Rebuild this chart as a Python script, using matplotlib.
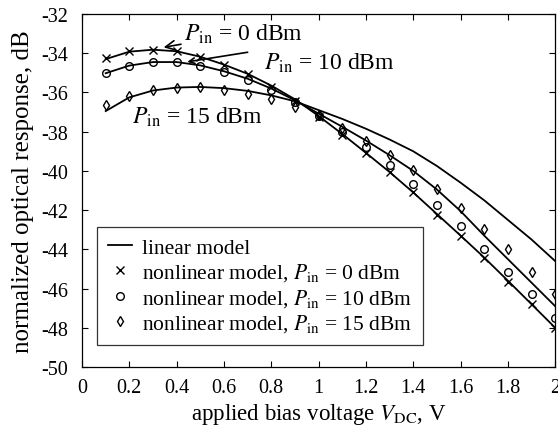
import numpy as np
import matplotlib
matplotlib.use('Agg')
import matplotlib.pyplot as plt

# ------------------ DATA ------------------

v_dc = [0.1, 0.2, 0.3, 0.4, 0.5, 0.6, 0.7, 0.8, 0.9, 1.0,
        1.1, 1.2, 1.3, 1.4, 1.5, 1.6, 1.7, 1.8, 1.9, 2.0]

# linear model (solid lines), one per input power
lin_0 = [-34.30, -33.92, -33.82, -33.90, -34.18, -34.58, -35.05, -35.65, -36.35, -37.20,
         -38.12, -39.08, -40.06, -41.10, -42.20, -43.30, -44.42, -45.60, -46.80, -48.00]
lin_10 = [-35.02, -34.63, -34.45, -34.45, -34.62, -34.92, -35.30, -35.80, -36.40, -37.08,
          -37.75, -38.45, -39.20, -40.00, -40.95, -42.05, -43.30, -44.50, -45.70, -46.90]
lin_15 = [-36.95, -36.25, -35.90, -35.75, -35.72, -35.78, -35.92, -36.15, -36.45, -36.90,
          -37.35, -37.85, -38.40, -39.00, -39.75, -40.60, -41.50, -42.50, -43.50, -44.60]

# nonlinear model (markers)
nl_0 = [-34.25, -33.90, -33.82, -33.90, -34.20, -34.60, -35.07, -35.70, -36.45, -37.25,
        -38.19, -39.09, -40.06, -41.10, -42.23, -43.30, -44.43, -45.69, -46.80, -48.03]
nl_10 = [-35.00, -34.63, -34.43, -34.46, -34.66, -34.94, -35.34, -35.85, -36.50, -37.20,
         -38.02, -38.78, -39.72, -40.69, -41.75, -42.82, -43.96, -45.15, -46.30, -47.49]
nl_15 = [-36.63, -36.16, -35.85, -35.75, -35.73, -35.85, -36.06, -36.33, -36.73, -37.15,
         -37.80, -38.50, -39.20, -39.97, -40.90, -41.89, -42.94, -44.00, -45.18, -46.30]

x_ticks = [0, 0.2, 0.4, 0.6, 0.8, 1, 1.2, 1.4, 1.6, 1.8, 2]
x_ticklabels = ['0', '0.2', '0.4', '0.6', '0.8', '1', '1.2', '1.4', '1.6', '1.8', '2']
y_ticks = [-50, -48, -46, -44, -42, -40, -38, -36, -34, -32]

# ------------------ PLOT ------------------

plt.rcParams.update({
    "font.family": "Liberation Serif",
    "mathtext.fontset": "stix",
    "axes.unicode_minus": False,
    "xtick.direction": "in",
    "ytick.direction": "in",
    "xtick.top": True,
    "ytick.right": True,
})

fig = plt.figure(figsize=(5.58, 4.35), dpi=100)
ax = fig.add_axes([0.147, 0.154, 0.848, 0.8115])

lw = 1.3
ax.plot(v_dc, lin_0, color='k', lw=lw, label='linear model')
ax.plot(v_dc, lin_10, color='k', lw=lw)
ax.plot(v_dc, lin_15, color='k', lw=lw)

ax.plot(v_dc, nl_0, ls='none', marker='x', ms=5.5, mec='k', mew=1.0,
        label=r'nonlinear model, $P_{\rm in}$ = 0 dBm')
ax.plot(v_dc, nl_10, ls='none', marker='o', ms=5.5, mfc='none', mec='k', mew=1.0,
        label=r'nonlinear model, $P_{\rm in}$ = 10 dBm')
ax.plot(v_dc, nl_15, ls='none', marker='d', ms=5.5, mfc='none', mec='k', mew=1.0,
        label=r'nonlinear model, $P_{\rm in}$ = 15 dBm')

ax.set_xlim(0, 2)
ax.set_ylim(-50, -32)
ax.set_xticks(x_ticks)
ax.set_xticklabels(x_ticklabels)
ax.set_yticks(y_ticks)
ax.tick_params(labelsize=14.5, length=4, width=0.8)
ax.tick_params(axis='x', pad=8)
ax.tick_params(axis='y', pad=10)
for s in ax.spines.values():
    s.set_linewidth(0.9)

ax.set_xlabel(r'applied bias voltage $V_{\rm DC}$, V', fontsize=16.5, labelpad=3)
ax.set_ylabel('normalized optical response, dB', fontsize=18, labelpad=5)

# annotations
arw = dict(arrowstyle='->', color='k', lw=1.2, shrinkA=0, shrinkB=0)
ax.annotate(r'$P_{\rm in}$ = 0 dBm', xy=(0.345, -33.70), xytext=(0.43, -33.30),
            fontsize=17, va='baseline', ha='left', arrowprops=arw)
ax.text(0.77, -34.80, r'$P_{\rm in}$ = 10 dBm', fontsize=17, va='baseline', ha='left')
ax.annotate('', xy=(0.445, -34.44), xytext=(0.70, -33.95), arrowprops=arw)
ax.text(0.21, -37.55, r'$P_{\rm in}$ = 15 dBm', fontsize=17, va='baseline', ha='left')

leg = ax.legend(loc='lower left', bbox_to_anchor=(0.032, 0.062), borderaxespad=0,
                fontsize=15.5, frameon=True, fancybox=False, edgecolor='k',
                handlelength=1.1, handletextpad=0.5, labelspacing=0.17,
                borderpad=0.5)
leg.get_frame().set_linewidth(0.9)

plt.savefig('out.png', dpi=100)
